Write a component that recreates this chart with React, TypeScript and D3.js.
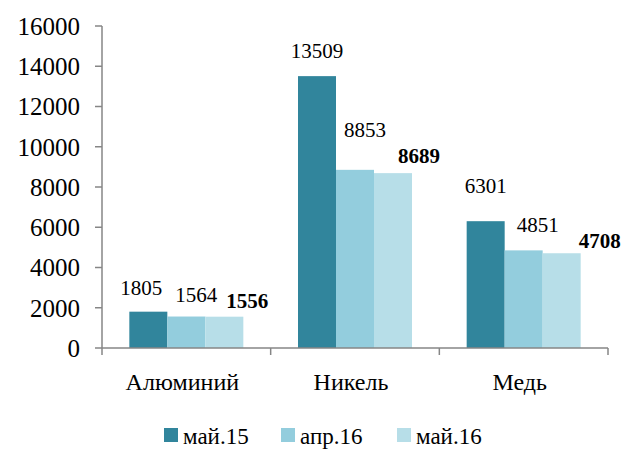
import React from "react";
import * as d3 from "d3";

const categories = ["Алюминий", "Никель", "Медь"];
const seriesNames = ["май.15", "апр.16", "май.16"];
const valuesMay15 = [1805, 13509, 6301];
const valuesApr16 = [1564, 8853, 4851];
const valuesMay16 = [1556, 8689, 4708];
const yTicks = [0, 2000, 4000, 6000, 8000, 10000, 12000, 14000, 16000];
const colors = ["#31859C", "#93CDDD", "#B7DEE8"];
// label offsets (dx, dy) relative to bar top center, per series per category
const labelDx = [
  [-7, 0, 0],
  [10, 10, 14],
  [23, 26, 38],
];
const labelDy = [
  [-17, -18, -28],
  [-15, -33, -18],
  [-9, -10, -5],
];

const FONT = "Liberation Serif";

export default function App() {
  const W = 624, H = 450;
  const left = 102, right = 608, top = 26, bottom = 348;
  const series = [valuesMay15, valuesApr16, valuesMay16];
  const x = d3.scaleBand<string>().domain(categories).range([left, right]).padding(0);
  const y = d3.scaleLinear().domain([0, 16000]).range([bottom, top]);
  const groupW = 114;
  const inner = d3.scaleBand<number>().domain([0, 1, 2]).range([0, groupW]).padding(0);
  const axisColor = "#868686";
  const legendX = [164, 281, 397];
  return (
    <div style={{ position: "absolute", left: 0, top: 0, width: W, height: H, fontFamily: FONT }}>
      <svg width={W} height={H} fontFamily={FONT} style={{ display: "block" }}>
        <rect width={W} height={H} fill="#fff" />
        {series.map((vals, si) =>
          vals.map((v, ci) => {
            const bx = (x(categories[ci]) as number) + x.bandwidth() / 2 - groupW / 2 + (inner(si) as number);
            return (
              <rect key={`b${si}-${ci}`} x={bx} y={y(v)} width={inner.bandwidth()} height={y(0) - y(v)} fill={colors[si]} />
            );
          })
        )}
        <line x1={left} x2={left} y1={y(16000)} y2={bottom} stroke={axisColor} strokeWidth={1.5} />
        <line x1={left} x2={right} y1={bottom} y2={bottom} stroke={axisColor} strokeWidth={1.5} />
        {yTicks.map((t) => (
          <g key={`t${t}`}>
            <line x1={left - 7} x2={left} y1={y(t)} y2={y(t)} stroke={axisColor} strokeWidth={1.5} />
            <text x={80} y={y(t)} dy="0.35em" textAnchor="end" fontSize={25} fill="#000" fontFamily={FONT}>
              {t}
            </text>
          </g>
        ))}
        {[...categories.map((c) => x(c) as number), right].map((p, i) => (
          <line key={`xt${i}`} x1={p} x2={p} y1={bottom} y2={bottom + 7} stroke={axisColor} strokeWidth={1.5} />
        ))}
        {categories.map((c) => (
          <text key={c} x={(x(c) as number) + x.bandwidth() / 2 - 4} y={390} textAnchor="middle" fontSize={24} fill="#000" fontFamily={FONT}>
            {c}
          </text>
        ))}
        {series.map((vals, si) =>
          vals.map((v, ci) => {
            const cx = (x(categories[ci]) as number) + x.bandwidth() / 2 - groupW / 2 + (inner(si) as number) + inner.bandwidth() / 2;
            return (
              <text
                key={`l${si}-${ci}`}
                x={cx + labelDx[si][ci]}
                y={y(v) + labelDy[si][ci]}
                textAnchor="middle"
                fontSize={21}
                fontWeight={si === 2 ? "bold" : "normal"}
                fill="#000"
                fontFamily={FONT}
              >
                {v}
              </text>
            );
          })
        )}
        {seriesNames.map((n, i) => (
          <g key={n}>
            <rect x={legendX[i]} y={428} width={14} height={14} fill={colors[i]} />
            <text x={legendX[i] + 19} y={444} fontSize={23} fill="#000" fontFamily={FONT}>
              {n}
            </text>
          </g>
        ))}
      </svg>
    </div>
  );
}
